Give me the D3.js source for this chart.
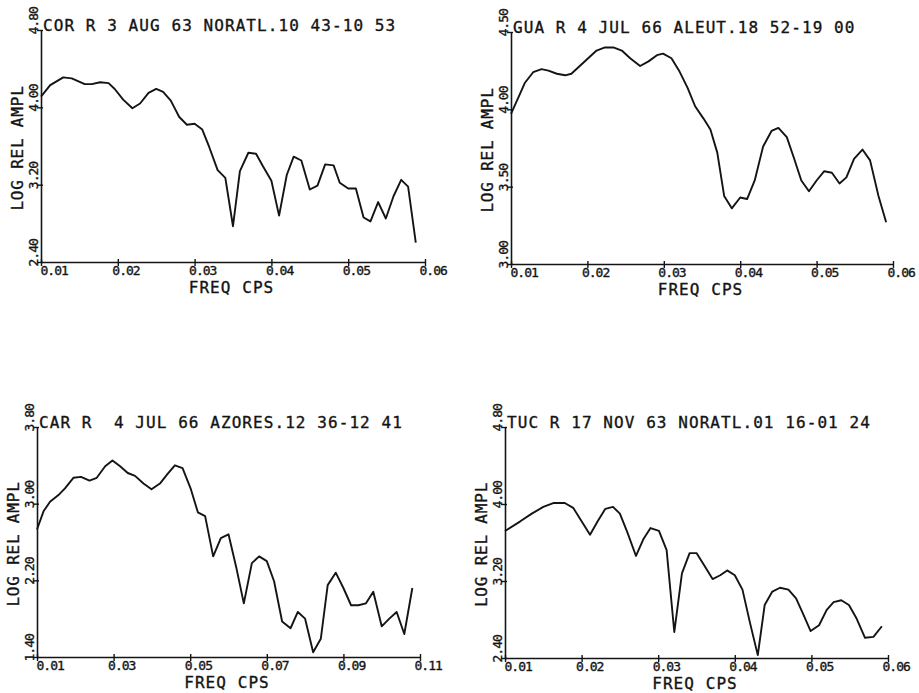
<!DOCTYPE html>
<html><head><meta charset="utf-8">
<script src="https://cdn.jsdelivr.net/npm/d3@7"></script>
<style>
html,body{margin:0;padding:0;background:#fff;}
svg{display:block;background:#fff;}
text{font-family:"DejaVu Sans Mono",monospace;fill:#141414;white-space:pre;}
</style></head><body>
<svg id="chart" width="919" height="693"></svg>
<script>
// Amplitude spectra, four stations: frequency (cps) vs log relative amplitude

const corTitle = "COR R 3 AUG 63 NORATL.10 43-10 53";
const corFreq = [0.0100,0.0112,0.0129,0.0140,0.0157,0.0166,0.0177,0.0188,0.0196,0.0207,
  0.0219,0.0229,0.0240,0.0250,0.0259,0.0269,0.0280,0.0290,0.0300,0.0310,
  0.0319,0.0330,0.0340,0.0350,0.0359,0.0370,0.0380,0.0389,0.0400,0.0410,
  0.0420,0.0429,0.0439,0.0450,0.0460,0.0470,0.0481,0.0489,0.0500,0.0510,
  0.0520,0.0529,0.0539,0.0549,0.0559,0.0569,0.0578,0.0588];
const corAmp = [4.11,4.23,4.31,4.30,4.24,4.24,4.26,4.25,4.19,4.08,
  3.99,4.04,4.15,4.19,4.16,4.07,3.90,3.82,3.83,3.77,
  3.59,3.35,3.27,2.77,3.34,3.53,3.52,3.39,3.24,2.88,
  3.30,3.49,3.45,3.15,3.19,3.41,3.40,3.22,3.16,3.16,
  2.86,2.82,3.02,2.85,3.08,3.25,3.18,2.60];
const corXTicks = [0.01,0.02,0.03,0.04,0.05,0.06];
const corYTicks = [2.40,3.20,4.00,4.80];

const guaTitle = "GUA R 4 JUL 66 ALEUT.18 52-19 00";
const guaFreq = [0.0100,0.0110,0.0118,0.0129,0.0140,0.0149,0.0160,0.0171,0.0179,0.0190,
  0.0201,0.0212,0.0223,0.0234,0.0245,0.0256,0.0269,0.0280,0.0291,0.0299,
  0.0310,0.0320,0.0331,0.0341,0.0352,0.0361,0.0370,0.0379,0.0389,0.0400,
  0.0409,0.0419,0.0430,0.0441,0.0450,0.0461,0.0470,0.0480,0.0490,0.0500,
  0.0510,0.0520,0.0530,0.0539,0.0549,0.0560,0.0570,0.0581,0.0591];
const guaAmp = [3.97,4.08,4.17,4.24,4.26,4.25,4.23,4.22,4.23,4.28,
  4.33,4.38,4.40,4.40,4.38,4.33,4.28,4.31,4.35,4.36,
  4.33,4.25,4.14,4.02,3.94,3.87,3.72,3.44,3.36,3.43,
  3.42,3.54,3.76,3.86,3.88,3.82,3.69,3.54,3.47,3.54,
  3.60,3.59,3.52,3.56,3.68,3.74,3.67,3.44,3.27];
const guaXTicks = [0.01,0.02,0.03,0.04,0.05,0.06];
const guaYTicks = [3.00,3.50,4.00,4.50];

const carTitle = "CAR R  4 JUL 66 AZORES.12 36-12 41";
const carFreq = [0.0100,0.0117,0.0134,0.0156,0.0173,0.0195,0.0215,0.0237,0.0256,0.0278,
  0.0297,0.0317,0.0337,0.0356,0.0378,0.0399,0.0421,0.0441,0.0460,0.0480,
  0.0501,0.0520,0.0539,0.0560,0.0580,0.0600,0.0620,0.0640,0.0661,0.0680,
  0.0700,0.0719,0.0740,0.0762,0.0781,0.0800,0.0821,0.0841,0.0859,0.0880,
  0.0900,0.0920,0.0939,0.0959,0.0978,0.1000,0.1020,0.1039,0.1059,0.1080];
const carAmp = [2.73,2.92,3.02,3.09,3.16,3.27,3.28,3.24,3.27,3.39,
  3.45,3.39,3.32,3.29,3.21,3.15,3.21,3.31,3.40,3.37,
  3.16,2.91,2.87,2.45,2.64,2.68,2.34,1.96,2.38,2.45,
  2.40,2.19,1.77,1.70,1.87,1.80,1.45,1.59,2.15,2.28,
  2.12,1.94,1.94,1.96,2.08,1.72,1.80,1.87,1.64,2.12];
const carXTicks = [0.01,0.03,0.05,0.07,0.09,0.11];
const carYTicks = [1.40,2.20,3.00,3.80];

const tucTitle = "TUC R 17 NOV 63 NORATL.01 16-01 24";
const tucFreq = [0.0100,0.0120,0.0135,0.0150,0.0163,0.0178,0.0189,0.0200,0.0211,0.0221,
  0.0231,0.0241,0.0250,0.0260,0.0271,0.0281,0.0290,0.0301,0.0311,0.0321,
  0.0331,0.0341,0.0350,0.0361,0.0371,0.0381,0.0390,0.0400,0.0410,0.0420,
  0.0430,0.0439,0.0449,0.0459,0.0470,0.0480,0.0489,0.0499,0.0510,0.0520,
  0.0529,0.0539,0.0549,0.0559,0.0570,0.0581,0.0592];
const tucAmp = [3.72,3.82,3.90,3.97,4.01,4.01,3.96,3.82,3.68,3.82,
  3.95,3.97,3.90,3.70,3.46,3.64,3.75,3.72,3.52,2.67,
  3.28,3.49,3.49,3.35,3.22,3.26,3.31,3.26,3.11,2.76,
  2.43,2.95,3.09,3.13,3.11,3.02,2.86,2.68,2.74,2.90,
  2.98,3.00,2.95,2.81,2.61,2.62,2.73];
const tucXTicks = [0.01,0.02,0.03,0.04,0.05,0.06];
const tucYTicks = [2.40,3.20,4.00,4.80];

const xAxisTitle = "FREQ CPS";
const yAxisTitle = "LOG REL AMPL";

// Plot frames in page pixels
const panels = [
  {title: corTitle, freq: corFreq, amp: corAmp, xTicks: corXTicks, yTicks: corYTicks,
   left: 41, top: 30, right: 425, bottom: 262},
  {title: guaTitle, freq: guaFreq, amp: guaAmp, xTicks: guaXTicks, yTicks: guaYTicks,
   left: 511, top: 32, right: 893, bottom: 264},
  {title: carTitle, freq: carFreq, amp: carAmp, xTicks: carXTicks, yTicks: carYTicks,
   left: 37, top: 427, right: 420, bottom: 657},
  {title: tucTitle, freq: tucFreq, amp: tucAmp, xTicks: tucXTicks, yTicks: tucYTicks,
   left: 505, top: 427, right: 888, bottom: 658}
];

const svg = d3.select("#chart");
const ink = "#141414";
const fmt = d3.format(".2f");

// plotter-pen look: thin outline thickens the glyph strokes a little
function pen(sel) {
  sel.attr("fill", ink).attr("stroke", ink).attr("stroke-width", 0.35);
}

panels.forEach(p => {
  const x = d3.scaleLinear()
    .domain([p.xTicks[0], p.xTicks[p.xTicks.length - 1]])
    .range([p.left, p.right]);
  const y = d3.scaleLinear()
    .domain([p.yTicks[0], p.yTicks[p.yTicks.length - 1]])
    .range([p.bottom, p.top]);

  const g = svg.append("g");

  // frequency axis
  const xa = g.append("g")
    .attr("transform", `translate(0,${p.bottom})`)
    .call(d3.axisBottom(x).tickValues(p.xTicks).tickFormat(fmt)
      .tickSizeInner(4).tickSizeOuter(0));
  xa.select(".domain").attr("stroke", ink).attr("stroke-width", 1.6);
  xa.selectAll(".tick line").attr("stroke", ink).attr("stroke-width", 1.4).attr("y1", -3);
  xa.selectAll(".tick text")
    .call(pen)
    .style("font-family", '"DejaVu Sans Mono", monospace')
    .style("font-size", "13px")
    .style("letter-spacing", "-1px")
    .attr("text-anchor", "start")
    .attr("x", (d, i) => i === 0 ? -1 : -6)
    .attr("y", 13)
    .attr("dy", 0);

  // amplitude axis
  const ya = g.append("g")
    .attr("transform", `translate(${p.left},0)`)
    .call(d3.axisLeft(y).tickValues(p.yTicks).tickFormat(fmt)
      .tickSizeInner(4).tickSizeOuter(0));
  ya.select(".domain").attr("stroke", ink).attr("stroke-width", 1.6);
  ya.selectAll(".tick line").attr("stroke", ink).attr("stroke-width", 1.4).attr("x1", 2);
  ya.selectAll(".tick text")
    .call(pen)
    .style("font-family", '"DejaVu Sans Mono", monospace')
    .style("font-size", "13px")
    .style("letter-spacing", "-1px")
    .attr("text-anchor", "start")
    .attr("transform", "rotate(-90)")
    .attr("x", -4)
    .attr("y", -3)
    .attr("dy", 0);

  // heading
  g.append("text")
    .call(pen)
    .attr("x", p.left + 2)
    .attr("y", p.top + 1)
    .style("font-size", "16px")
    .style("letter-spacing", "1.07px")
    .text(p.title);

  // axis titles
  g.append("text")
    .call(pen)
    .attr("x", (p.left + p.right) / 2 - 1.5)
    .attr("y", p.bottom + 31)
    .attr("text-anchor", "middle")
    .style("font-size", "16px")
    .style("letter-spacing", "1.07px")
    .text(xAxisTitle);

  g.append("text")
    .call(pen)
    .attr("transform", `translate(${p.left - 18},${(p.top + p.bottom) / 2 + 2}) rotate(-90)`)
    .attr("text-anchor", "middle")
    .style("font-size", "16px")
    .style("letter-spacing", "0.8px")
    .text(yAxisTitle);

  // spectrum trace
  const line = d3.line()
    .x((d, i) => x(p.freq[i]))
    .y(d => y(d));
  g.append("path")
    .datum(p.amp)
    .attr("fill", "none")
    .attr("stroke", ink)
    .attr("stroke-width", 1.9)
    .attr("stroke-linejoin", "round")
    .attr("d", line);
});
</script>
</body></html>
